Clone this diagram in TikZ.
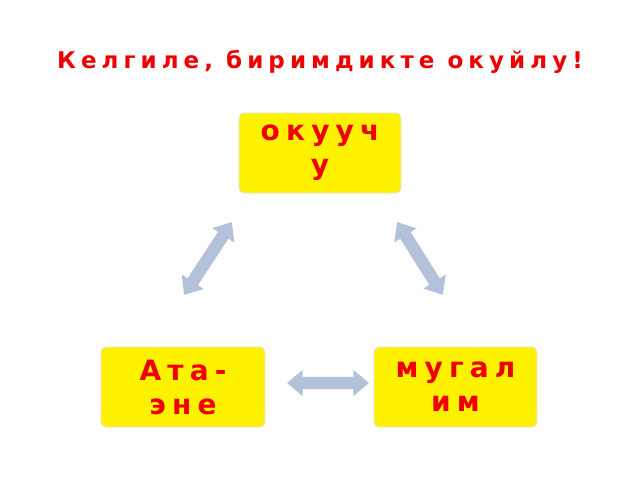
\documentclass[tikz,border=0pt]{standalone}
\usepackage{fontspec}
\setmainfont{DejaVu Sans}
\newfontfamily\widefont[LetterSpace=22]{DejaVu Sans}
\usetikzlibrary{shapes.arrows}
\definecolor{tred}{HTML}{EE0000}
\definecolor{arr}{HTML}{B4C1DA}
\tikzset{
 box/.style={draw=black!12, line width=0.8pt, fill=yellow, rounded corners=5pt, minimum width=162pt, minimum height=80pt, inner sep=0, font=\widefont\bfseries\fontsize{28}{34}\selectfont, text=tred, align=center, text width=160pt},
 darr/.style={double arrow, fill=arr, draw=none, minimum width=26pt, double arrow head extend=7pt, inner xsep=0pt, inner ysep=6pt, text height=0pt, text depth=0pt, double arrow tip angle=80}
}
\begin{document}
\begin{tikzpicture}[x=1pt,y=-1pt]
\useasboundingbox (0,0) rectangle (640,480);
\node[font=\widefont\bfseries\fontsize{23}{26}\selectfont, text=tred] (title) at (320,62) {Келгиле, биримдикте окуйлу!};
\node[box] (s) at (320,153) {окууч\\у};
\node[box, minimum width=164pt] (p) at (183,387) {Ата-\\эне};
\node[box, minimum width=163pt] (t) at (455.5,387) {мугал\\им};
\coordinate (a1) at (208,258.5);
\coordinate (a2) at (420,258.5);
\coordinate (a3) at (328,383);
\node[darr, minimum height=87pt, rotate=56.7] (l) at (a1) {};
\node[darr, minimum height=86pt, rotate=-57.8] (r) at (a2) {};
\node[darr, minimum height=82pt] (h) at (a3) {};
\end{tikzpicture}
\end{document}
